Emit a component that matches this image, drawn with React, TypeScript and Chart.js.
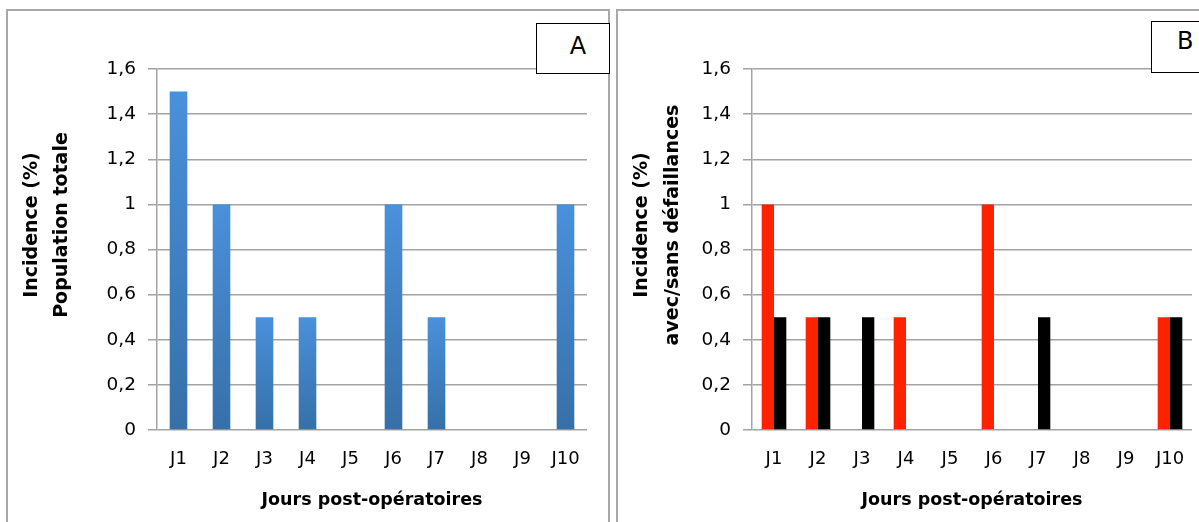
import React, { useEffect, useRef } from "react";
import { Chart, registerables } from "chart.js";

Chart.register(...registerables);

const categories = ["J1", "J2", "J3", "J4", "J5", "J6", "J7", "J8", "J9", "J10"];
const totalPopulation = [1.5, 1, 0.5, 0.5, 0, 1, 0.5, 0, 0, 1];
const withFailure = [1, 0.5, 0, 0.5, 0, 1, 0, 0, 0, 0.5];
const withoutFailure = [0.5, 0.5, 0.5, 0, 0, 0, 0.5, 0, 0, 0.5];
const yTicks = [0, 0.2, 0.4, 0.6, 0.8, 1, 1.2, 1.4, 1.6];
const yTitleA = ["Incidence (%)", "Population totale"];
const yTitleB = ["Incidence (%)", "avec/sans défaillances"];
const xTitle = "Jours post-opératoires";

const FONT = "'DejaVu Sans', 'Open Sans', sans-serif";
const GRID = "#a3a3a3";

const fmt = (v: number) => String(Math.round(v * 10) / 10).replace(".", ",");

// Draws the two-line rotated y-axis title (Excel centres it slightly above the plot centre)
const yTitlePlugin = {
  id: "yTitleLines",
  afterDraw(chart: any, _args: any, opts: any) {
    const ctx = chart.ctx;
    ctx.save();
    ctx.fillStyle = "#000";
    ctx.font = `bold ${opts.size}px ${FONT}`;
    ctx.textAlign = "center";
    ctx.textBaseline = "middle";
    (opts.lines as string[]).forEach((t, i) => {
      ctx.save();
      ctx.translate(opts.x + i * opts.gap, opts.centerY);
      ctx.rotate(-Math.PI / 2);
      ctx.fillText(t, 0, 0);
      ctx.restore();
    });
    ctx.restore();
  },
};

function makeOptions(cfg: { yTitle: string[]; yWidth: number; titleX: number; padRight: number }) {
  return {
    responsive: false,
    animation: false as const,
    maintainAspectRatio: false,
    layout: { padding: { top: 69, right: cfg.padRight, left: 0, bottom: 0 } },
    plugins: {
      legend: { display: false },
      tooltip: { enabled: false },
      yTitleLines: { lines: cfg.yTitle, x: cfg.titleX, gap: 30.5, centerY: 225, size: 19 },
    },
    scales: {
      x: {
        grid: { display: false, drawTicks: false },
        border: { display: false },
        ticks: { color: "#000", font: { family: FONT, size: 18 }, padding: 19, maxRotation: 0 },
        title: {
          display: true,
          text: xTitle,
          color: "#000",
          font: { family: FONT, size: 17.5, weight: "bold" as const, lineHeight: 1.2 },
          padding: { top: 0, bottom: 11 },
        },
        afterFit: (s: any) => {
          s.height = 92;
          s.paddingLeft = 0;
          s.paddingRight = 0;
        },
      },
      y: {
        min: 0,
        max: 1.6,
        afterBuildTicks: (s: any) => {
          s.ticks = yTicks.map((v) => ({ value: v }));
        },
        grid: { color: GRID, lineWidth: 1.5, tickLength: 9, drawTicks: true },
        border: { display: true, color: GRID, width: 1.5 },
        ticks: {
          color: "#000",
          font: { family: FONT, size: 18.5 },
          padding: 12,
          callback: (v: any) => fmt(Number(v)),
        },
        afterFit: (s: any) => {
          s.width = cfg.yWidth;
          s.paddingTop = 0;
          s.paddingBottom = 0;
        },
      },
    },
  };
}

function gradientBlue(c: any) {
  const chart = c.chart;
  if (!chart.chartArea || c.type !== "data") return "#4281c8";
  const ys = chart.scales.y;
  const top = ys.getPixelForValue(c.raw);
  const bottom = ys.getPixelForValue(0);
  if (bottom - top < 1) return "#3a72aa";
  const g = chart.ctx.createLinearGradient(0, top, 0, bottom);
  g.addColorStop(0, "#4a90db");
  g.addColorStop(1, "#3670a7");
  return g;
}

function PanelA() {
  const ref = useRef<HTMLCanvasElement>(null);
  useEffect(() => {
    const chart = new Chart(ref.current!, {
      type: "bar",
      data: {
        labels: categories,
        datasets: [
          {
            data: totalPopulation,
            backgroundColor: gradientBlue,
            categoryPercentage: 1,
            barPercentage: 0.41,
          },
        ],
      },
      options: makeOptions({ yTitle: yTitleA, yWidth: 157, titleX: 32, padRight: 22 }) as any,
      plugins: [yTitlePlugin],
    });
    return () => chart.destroy();
  }, []);
  return (
    <canvas
      ref={ref}
      width={609}
      height={522}
      style={{ position: "absolute", left: 0, top: 0, width: 609, height: 522 }}
    />
  );
}

function PanelB() {
  const ref = useRef<HTMLCanvasElement>(null);
  useEffect(() => {
    const chart = new Chart(ref.current!, {
      type: "bar",
      data: {
        labels: categories,
        datasets: [
          {
            data: withFailure,
            backgroundColor: "#ff2200",
            categoryPercentage: 0.56,
            barPercentage: 1,
          },
          {
            data: withoutFailure,
            backgroundColor: "#000000",
            categoryPercentage: 0.56,
            barPercentage: 1,
          },
        ],
      },
      options: makeOptions({ yTitle: yTitleB, yWidth: 140, titleX: 30.5, padRight: 7 }) as any,
      plugins: [yTitlePlugin],
    });
    return () => chart.destroy();
  }, []);
  return (
    <canvas
      ref={ref}
      width={587}
      height={522}
      style={{ position: "absolute", left: 612, top: 0, width: 587, height: 522 }}
    />
  );
}

export default function App() {
  const panelBorder = "2px solid #a8a8a8";
  const labelBox: React.CSSProperties = {
    position: "absolute",
    background: "#fff",
    border: "1.5px solid #000",
    boxSizing: "border-box",
    fontFamily: FONT,
    fontSize: 24,
    color: "#000",
    textAlign: "center",
  };
  return (
    <div
      style={{
        position: "fixed",
        left: 0,
        top: 0,
        width: 1199,
        height: 522,
        overflow: "hidden",
        background: "#fff",
      }}
    >
      <div
        style={{
          position: "absolute",
          left: 6,
          top: 9,
          width: 604,
          height: 600,
          border: panelBorder,
          boxSizing: "border-box",
        }}
      />
      <div
        style={{
          position: "absolute",
          left: 616,
          top: 9,
          width: 700,
          height: 600,
          border: panelBorder,
          boxSizing: "border-box",
        }}
      />
      <PanelA />
      <PanelB />
      <div style={{ ...labelBox, left: 536, top: 23, width: 74, height: 51, lineHeight: "44px", paddingLeft: 10 }}>A</div>
      <div style={{ ...labelBox, left: 1151, top: 21, width: 80, height: 52, lineHeight: "38px", textAlign: "left", paddingLeft: 25 }}>B</div>
    </div>
  );
}
